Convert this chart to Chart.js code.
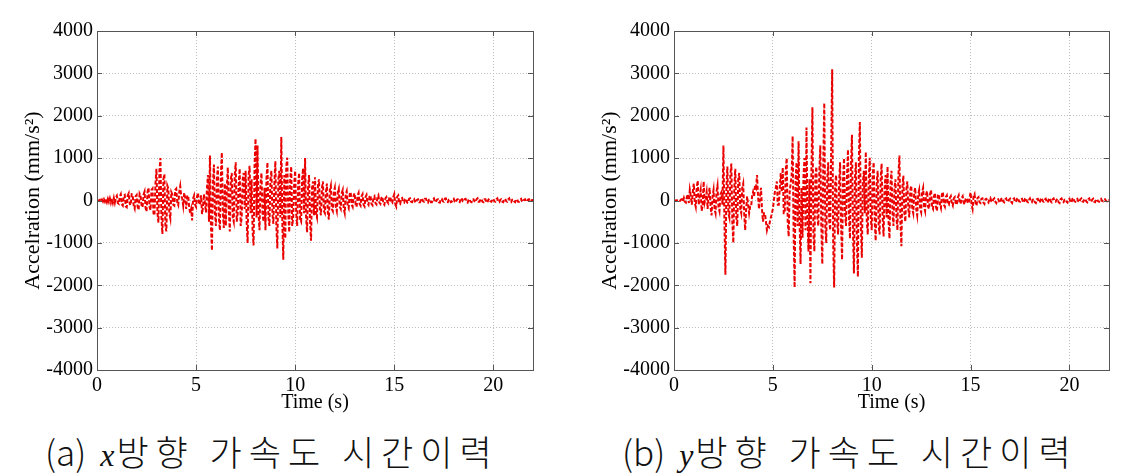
<!DOCTYPE html>
<html>
<head>
<meta charset="utf-8">
<script src="https://cdn.jsdelivr.net/npm/chart.js@4.4.1/dist/chart.umd.min.js"></script>
<style>
  body { margin: 0; background: #fff; width: 1134px; height: 473px; position: relative; overflow: hidden; }
  .panel { position: absolute; top: 0; height: 420px; }
  .cap { position: absolute; top: 429px; font-family: "Noto Sans CJK KR", sans-serif; font-weight: 300; font-size: 35px; color: #111; line-height: 44px; white-space: nowrap; }
  .cap i { font-family: "Liberation Serif", serif; font-style: italic; font-size: 32px; margin: 0 2px 0 14px; }
  .cap .ko { letter-spacing: 7px; word-spacing: 0px; }
</style>
</head>
<body>
<div class="panel" style="left:0px; width:560px;"><canvas id="chartX"></canvas></div>
<div class="panel" style="left:577px; width:557px;"><canvas id="chartY"></canvas></div>
<div class="cap" style="left:45px;">(a)<i>x</i><span class="ko">방향 가속도 시간이력</span></div>
<div class="cap" style="left:622px;">(b)<i>y</i><span class="ko">방향 가속도 시간이력</span></div>

<script>
// sampling step of the records (s)
const timeStep = 0.05;

// axis ticks
const timeTicks = [0, 5, 10, 15, 20];
const accTicks = [-4000, -3000, -2000, -1000, 0, 1000, 2000, 3000, 4000];

// x direction acceleration (mm/s^2), one row per second
const accX = [
  0, 5, -10, 15, -20, 20, -25, 30, -30, 35, -40, 40, -35, 50, -50, 45, -55, 60, -50, 70,
  110, -60, -80, 100, 150, -90, -120, 110, 130, -140, -160, 120, 170, -80, -110, 150, 140, -120, -190, 100,
  130, -150, -220, 160, 110, -120, -160, 140, 210, -180, -260, 200, 300, -150, -230, 250, 280, -300, -350, 400,
  750, -300, -520, 700, 1000, -400, -790, 500, 620, -600, -730, 350, 280, -300, -420, 200, 150, -100, -120, 250,
  280, -50, -110, 200, 340, 100, 50, -120, 180, 60, -200, 100, 120, -150, -300, -200, -470, 50, 120, -100,
  -150, 100, 180, -80, -100, 120, -320, -150, 150, -100, -280, 300, 600, -500, 1060, -600, -1180, 400, 850, -300,
  -600, 500, 800, -400, -700, 600, 1130, -300, -650, 400, -600, 300, 780, -200, -730, 500, 650, -400, -500, 600,
  900, -500, -300, 400, 750, -600, -400, 500, 650, -200, 700, -500, -1000, 600, 820, -300, 500, -700, -1060, 800,
  1460, -400, 1300, -300, -700, 400, 650, -300, -500, 300, -700, 500, 900, -400, -600, 500, 700, -300, -550, 400,
  930, -600, -1130, 500, 700, -400, 1500, -500, -1400, 600, -900, 800, 1010, -300, -750, 500, 800, -600, -400, 400,
  700, -300, -600, 400, 650, -450, -500, 500, 760, -300, 1000, -400, -750, 300, 600, -500, -950, 300, 450, -350,
  550, -300, -400, 350, 500, -200, -350, 300, 450, -250, -300, 200, 400, -300, -450, 250, 350, -200, -250, 200,
  300, -150, -250, 200, 280, -150, -200, 180, 250, -200, -300, 150, 220, -120, -180, 150, 200, -100, -150, 120,
  170, -100, -150, 120, 180, -80, -120, 100, 150, -100, -140, 80, 130, -60, -100, 90, 120, -80, -110, 70,
  100, -60, -90, 70, 120, -50, -80, 60, 90, -70, -100, 50, 80, -40, -70, 60, 90, -50, -60, 80,
  150, -80, -140, 90, 120, -60, -80, 50, 60, -40, -50, 30, 40, -50, -60, 40, 50, -30, -40, 30,
  40, -30, -50, 20, 30, -40, -40, 30, 50, -20, -30, 40, 40, -30, -50, 20, 30, -40, -40, 30,
  50, -30, -40, 20, 30, -40, -50, 30, 40, -20, -30, 40, 50, -30, -40, 20, 30, -40, -30, 20,
  40, -30, -50, 20, 30, -30, -40, 40, 60, -20, -30, 30, 40, -40, -50, 20, 30, -30, -40, 30,
  30, -20, -40, 30, 50, -30, -30, 20, 40, -30, -40, 30, 30, -40, -50, 20, 40, -20, -30, 30,
  40, -20, -30, 30, 50, -30, -40, 20, 30, -30, -40, 30, 40, -20, -30, 30, 50, -30, -40, 20,
  30, -20, -40, 20, 30, -30, -30, 20, 40, -20, -30, 20, 30, -20, -20, 20, 30, -20, -20, 10,
  10
];

// y direction acceleration (mm/s^2)
const accY = [
  0, 0, 0, 5, 20, -10, -10, 20, 30, -20, 60, -30, -50, 80, 150, -60, 250, 100, -100, 200,
  400, -50, -150, 300, 470, -100, 100, 250, -250, -100, 450, -50, 50, 200, -200, 100, 300, -150, -350, 100,
  250, -200, -300, 200, 350, -150, -250, 150, 200, -100, 1300, -500, -1750, 300, 800, -300, -400, 600, 870, -500,
  -1000, 300, 750, -400, -600, 500, 650, -200, -300, 300, 400, -300, -700, -200, 100, -100, -300, -150, -150, 100,
  200, 100, 350, 300, 600, 100, -200, 100, 300, -200, -500, -300, -300, -500, -700, -600, -630, -500, -400, -300,
  -200, 0, 200, 300, 450, -100, -100, 300, 650, 200, 780, -300, -300, 700, 1000, -500, -850, 200, 400, 600,
  1520, -800, -2050, 500, 900, -600, 1400, -500, -1500, 300, -880, 600, 1000, -700, 1720, -400, -1200, 500, -1950, 700,
  2200, -800, -1200, 600, 800, -400, -600, 700, 1300, -600, -1500, 900, 2300, -600, -1000, 500, 900, -500, -700, 1200,
  3100, -1000, -2050, 400, 600, -500, -800, 400, 900, -600, -1400, 500, 1000, -300, -600, 600, 1200, -400, -900, 800,
  1550, -700, -1720, 500, 900, -1000, -1800, 1000, 1850, -600, -1350, 400, 700, -300, 1150, -500, -800, 500, 1010, -400,
  -700, 600, 900, -500, -950, 400, 700, -600, -800, 500, 870, -400, -850, 300, 600, -400, 800, -500, -900, 400,
  700, -300, -600, 300, 500, -400, -700, 600, 1060, -500, -1080, 300, 590, -300, -500, 250, 450, -200, -400, 250,
  350, -200, -300, 200, 300, -200, -350, 150, 250, -200, -280, 200, 300, -150, -250, 150, 220, -150, -200, 150,
  250, -150, -200, 100, 180, -150, -250, 120, 150, -100, -180, 150, 200, -100, -150, 80, 120, -80, -100, 60,
  100, -60, -120, 50, 80, -70, -100, 60, 120, -50, -80, 60, 100, -50, -90, 40, 60, -40, -70, 80,
  190, -100, -200, 100, 150, -70, -120, 60, 80, -40, -60, 40, 50, -50, -80, 30, 40, -30, -50, 30,
  60, -20, -40, 30, 50, -30, -60, 20, 30, -30, -50, 40, 60, -20, -40, 30, 50, -20, -30, 20,
  40, -30, -60, 30, 50, -20, -40, 40, 60, -20, -30, 30, 40, -30, -50, 40, 60, -20, -40, 20,
  50, -20, -40, 20, 30, -40, -60, 30, 40, -30, -50, 40, 60, -20, -30, 20, 40, -30, -50, 30,
  60, -20, -40, 30, 50, -20, -30, 20, 40, -40, -60, 30, 50, -20, -40, 20, 30, -30, -50, 20,
  40, -30, -50, 40, 60, -20, -30, 20, 40, -20, -40, 30, 50, -20, -30, 20, 40, -20, -40, 30,
  50, -20, -30, 20, 40, -30, -40, 20, 30, -20, -30, 20, 40, -10, -20, 20, 30, -10, -20, 10,
  10
];

const serif = 'Liberation Serif';

// matlab style box with inward ticks
const boxFrame = {
  id: 'boxFrame',
  afterDraw(chart) {
    const { ctx, chartArea: a, scales: { x, y } } = chart;
    ctx.save();
    ctx.strokeStyle = '#555';
    ctx.lineWidth = 1;
    ctx.strokeRect(Math.round(a.left) + 0.5, Math.round(a.top) + 0.5, Math.round(a.right - a.left), Math.round(a.bottom - a.top));
    ctx.beginPath();
    x.ticks.forEach(function (t) {
      const px = Math.round(x.getPixelForValue(t.value)) + 0.5;
      ctx.moveTo(px, a.bottom); ctx.lineTo(px, a.bottom - 5);
      ctx.moveTo(px, a.top); ctx.lineTo(px, a.top + 5);
    });
    y.ticks.forEach(function (t) {
      const py = Math.round(y.getPixelForValue(t.value)) + 0.5;
      ctx.moveTo(a.left, py); ctx.lineTo(a.left + 5, py);
      ctx.moveTo(a.right, py); ctx.lineTo(a.right - 5, py);
    });
    ctx.stroke();
    ctx.restore();
  }
};

function toPoints(values) {
  return values.map(function (v, i) {
    return { x: Math.round(i * timeStep * 100) / 100, y: v };
  });
}

function createChart(id, values, rightPad) {
  const ctx = document.getElementById(id).getContext('2d');
  return new Chart(ctx, {
    type: 'line',
    data: {
      datasets: [{
        data: toPoints(values),
        borderColor: 'rgb(235,0,0)',
        borderWidth: 2,
        borderDash: [4, 2],
        pointRadius: 0,
        tension: 0,
        fill: false
      }]
    },
    options: {
      responsive: true,
      maintainAspectRatio: false,
      animation: false,
      layout: { padding: { left: 0, top: 31, right: rightPad, bottom: 0 } },
      plugins: { legend: { display: false }, tooltip: { enabled: false } },
      scales: {
        x: {
          type: 'linear',
          min: 0,
          max: 22,
          afterBuildTicks: function (s) { s.ticks = timeTicks.map(function (v) { return { value: v }; }); },
          afterFit: function (s) { s.height = 50; },
          ticks: { color: '#000', padding: 4, maxRotation: 0, font: { family: serif, size: 20 }, callback: function (v) { return String(v); } },
          grid: { color: '#bdbdbd', drawTicks: false },
          border: { display: false, dash: [1, 2] },
          title: { display: true, text: 'Time (s)', color: '#000', font: { family: serif, size: 20 }, padding: { top: 0, bottom: 5 } }
        },
        y: {
          min: -4000,
          max: 4000,
          afterBuildTicks: function (s) { s.ticks = accTicks.map(function (v) { return { value: v }; }); },
          afterFit: function (s) { s.width = 97; },
          ticks: { color: '#000', padding: 4, font: { family: serif, size: 20 }, callback: function (v) { return String(v); } },
          grid: { color: '#bdbdbd', drawTicks: false },
          border: { display: false, dash: [1, 2] },
          title: { display: true, text: 'Accelration (mm/s²)', color: '#000', font: { family: serif, size: 22 }, padding: { top: 20, bottom: 0 } }
        }
      }
    },
    plugins: [boxFrame]
  });
}

createChart('chartX', accX, 27);
createChart('chartY', accY, 25);
</script>
</body>
</html>
